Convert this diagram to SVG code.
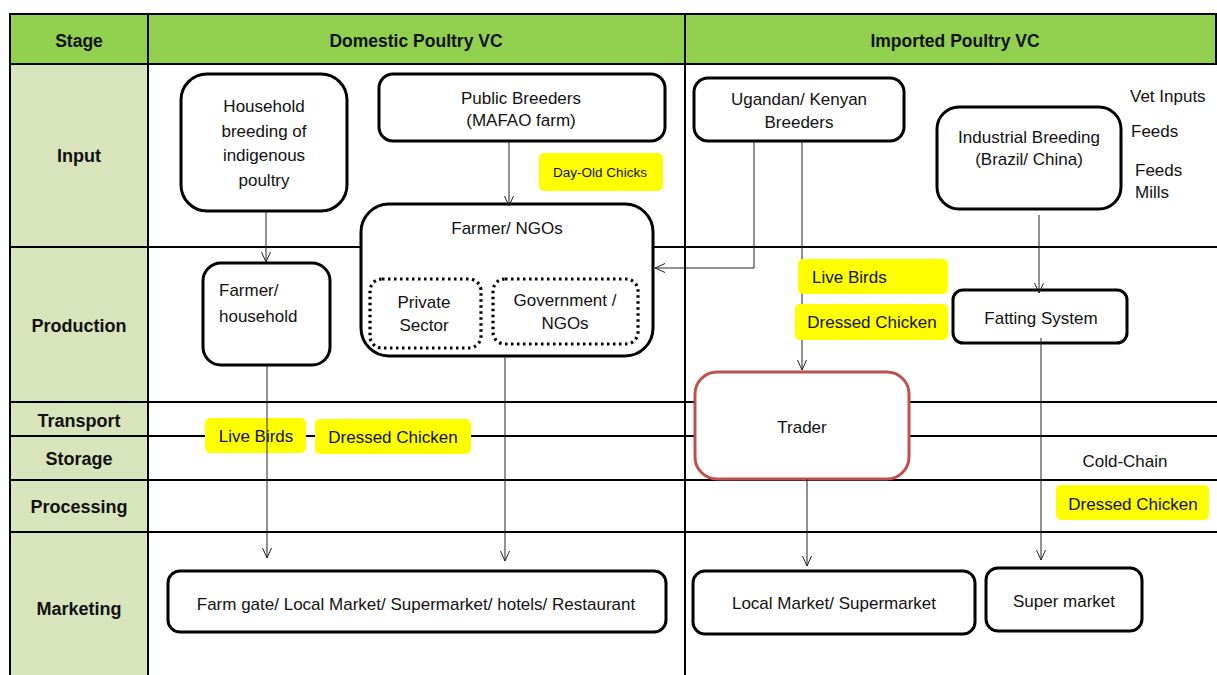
<svg xmlns="http://www.w3.org/2000/svg" width="1217" height="675" viewBox="0 0 1217 675">
  <defs>
    <style>
      text { font-family: "Liberation Sans", Arial, sans-serif; fill: #111; }
      .hdr { font-size: 17.5px; font-weight: bold; text-anchor: middle; }
      .stage { font-size: 18px; font-weight: bold; text-anchor: middle; }
      .lbl { font-size: 17px; text-anchor: middle; }
      .lbl-l { font-size: 17px; text-anchor: start; }
      .small { font-size: 13.5px; text-anchor: middle; }
      .grid { stroke: #000; stroke-width: 2; fill: none; }
      .box { fill: #fff; stroke: #000; stroke-width: 3; }
      .dotbox { fill: #fff; stroke: #000; stroke-width: 3.2; stroke-dasharray: 2.5 3.5; }
      .trader { fill: #fff; stroke: #C0504D; stroke-width: 3; }
      .tag { fill: #FFFF00; }
      .conn { stroke: #222; stroke-width: 1; fill: none; }
    </style>
    <marker id="arr" viewBox="0 0 12 12" refX="11" refY="6" markerWidth="12" markerHeight="12" orient="auto" markerUnits="userSpaceOnUse">
      <path d="M1,1.5 L11,6 L1,10.5" fill="none" stroke="#222" stroke-width="1"/>
    </marker>
  </defs>

  <rect width="1217" height="675" fill="#fff"/>

  <!-- table background -->
  <g id="table">
    <rect x="9" y="14" width="1210" height="50" fill="#92D050"/>
    <rect x="9" y="64" width="139" height="613" fill="#D8E4BC"/>
    <!-- horizontal rules -->
    <line class="grid" x1="9" y1="14" x2="1217" y2="14"/>
    <line class="grid" x1="9" y1="64" x2="1217" y2="64"/>
    <line class="grid" x1="9" y1="247" x2="1217" y2="247"/>
    <line class="grid" x1="9" y1="402" x2="1217" y2="402"/>
    <line class="grid" x1="9" y1="436" x2="1217" y2="436"/>
    <line class="grid" x1="9" y1="480" x2="1217" y2="480"/>
    <line class="grid" x1="9" y1="532" x2="1217" y2="532"/>
    <!-- vertical rules -->
    <line class="grid" x1="10" y1="14" x2="10" y2="675"/>
    <line class="grid" x1="148" y1="14" x2="148" y2="675"/>
    <line class="grid" x1="685" y1="14" x2="685" y2="675"/>
    <line class="grid" x1="1216" y1="14" x2="1216" y2="64"/>

    <text class="hdr" x="79" y="47">Stage</text>
    <text class="hdr" x="416" y="47">Domestic Poultry VC</text>
    <text class="hdr" x="955" y="47">Imported Poultry VC</text>

    <text class="stage" x="79" y="162">Input</text>
    <text class="stage" x="79" y="332">Production</text>
    <text class="stage" x="79" y="427">Transport</text>
    <text class="stage" x="79" y="465">Storage</text>
    <text class="stage" x="79" y="513">Processing</text>
    <text class="stage" x="79" y="615">Marketing</text>
  </g>

  <!-- domestic chain -->
  <g id="household-breeding">
    <rect class="box" x="181" y="74" width="166" height="137" rx="26"/>
    <text class="lbl" x="264" y="112">Household</text>
    <text class="lbl" x="264" y="137">breeding of</text>
    <text class="lbl" x="264" y="161">indigenous</text>
    <text class="lbl" x="264" y="186">poultry</text>
  </g>

  <g id="public-breeders">
    <rect class="box" x="379" y="74" width="286" height="67" rx="14"/>
    <text class="lbl" x="521" y="104">Public Breeders</text>
    <text class="lbl" x="521" y="126">(MAFAO farm)</text>
  </g>

  <g id="day-old-chicks">
    <rect class="tag" x="539" y="153" width="124" height="38" rx="5"/>
    <text class="small" x="600" y="177">Day-Old Chicks</text>
  </g>

  <g id="farmer-ngos">
    <rect class="box" x="361" y="204" width="292" height="152" rx="28"/>
    <text class="lbl" x="507" y="234">Farmer/ NGOs</text>
  </g>

  <g id="private-sector">
    <rect class="dotbox" x="370" y="279" width="111" height="69" rx="12"/>
    <text class="lbl" x="424" y="308">Private</text>
    <text class="lbl" x="424" y="331">Sector</text>
  </g>

  <g id="government-ngos">
    <rect class="dotbox" x="493" y="279" width="145" height="65" rx="12"/>
    <text class="lbl" x="565" y="306">Government /</text>
    <text class="lbl" x="565" y="329">NGOs</text>
  </g>

  <g id="farmer-household">
    <rect class="box" x="203" y="263" width="127" height="102" rx="18"/>
    <text class="lbl-l" x="219" y="296">Farmer/</text>
    <text class="lbl-l" x="219" y="322">household</text>
  </g>

  <g id="domestic-live-birds">
    <rect class="tag" x="205" y="418" width="101" height="35" rx="5"/>
    <text class="lbl" x="256" y="442">Live Birds</text>
  </g>

  <g id="domestic-dressed-chicken">
    <rect class="tag" x="315" y="419" width="156" height="35" rx="5"/>
    <text class="lbl" x="393" y="443">Dressed Chicken</text>
  </g>

  <g id="farm-gate-market">
    <rect class="box" x="168" y="571" width="498" height="61" rx="12"/>
    <text class="lbl" x="416" y="610">Farm gate/ Local Market/ Supermarket/ hotels/ Restaurant</text>
  </g>

  <!-- imported chain -->
  <g id="ugandan-kenyan-breeders">
    <rect class="box" x="694" y="78" width="210" height="63" rx="14"/>
    <text class="lbl" x="799" y="105">Ugandan/ Kenyan</text>
    <text class="lbl" x="799" y="128">Breeders</text>
  </g>

  <g id="industrial-breeding">
    <rect class="box" x="937" y="107" width="184" height="102" rx="22"/>
    <text class="lbl" x="1029" y="143">Industrial Breeding</text>
    <text class="lbl" x="1029" y="165">(Brazil/ China)</text>
  </g>

  <g id="input-notes">
    <text class="lbl-l" x="1130" y="102">Vet Inputs</text>
    <text class="lbl-l" x="1131" y="137">Feeds</text>
    <text class="lbl-l" x="1135" y="176">Feeds</text>
    <text class="lbl-l" x="1135" y="198">Mills</text>
  </g>

  <g id="fatting-system">
    <rect class="box" x="953" y="290" width="174" height="53" rx="10"/>
    <text class="lbl" x="1041" y="324">Fatting System</text>
  </g>

  <g id="trader">
    <rect class="trader" x="695" y="372" width="214" height="107" rx="22"/>
    <text class="lbl" x="802" y="433">Trader</text>
  </g>

  <g id="cold-chain">
    <text class="lbl" x="1125" y="467">Cold-Chain</text>
  </g>

  <g id="local-market-supermarket">
    <rect class="box" x="693" y="571" width="282" height="63" rx="12"/>
    <text class="lbl" x="834" y="609">Local Market/ Supermarket</text>
  </g>

  <g id="supermarket">
    <rect class="box" x="986" y="568" width="156" height="63" rx="12"/>
    <text class="lbl" x="1064" y="607">Super market</text>
  </g>

  <!-- flow arrows -->
  <g id="connectors">
    <line class="conn" x1="509" y1="141" x2="509" y2="206" marker-end="url(#arr)"/>
    <line class="conn" x1="266" y1="211" x2="266" y2="262" marker-end="url(#arr)"/>
    <line class="conn" x1="267" y1="365" x2="267" y2="558" marker-end="url(#arr)"/>
    <line class="conn" x1="505" y1="356" x2="505" y2="561" marker-end="url(#arr)"/>
    <polyline class="conn" points="754,141 754,268 655,268" marker-end="url(#arr)"/>
    <line class="conn" x1="802" y1="141" x2="802" y2="370" marker-end="url(#arr)"/>
    <line class="conn" x1="1039" y1="215" x2="1039" y2="293" marker-end="url(#arr)"/>
    <line class="conn" x1="1041" y1="338" x2="1041" y2="560" marker-end="url(#arr)"/>
    <line class="conn" x1="807" y1="479" x2="807" y2="566" marker-end="url(#arr)"/>
  </g>

  <!-- product tags on the import route -->
  <g id="import-live-birds">
    <rect class="tag" x="798" y="259" width="150" height="35" rx="5"/>
    <text class="lbl-l" x="812" y="283">Live Birds</text>
  </g>

  <g id="import-dressed-chicken">
    <rect class="tag" x="795" y="304" width="153" height="36" rx="5"/>
    <text class="lbl" x="872" y="328">Dressed Chicken</text>
  </g>

  <g id="supermarket-dressed-chicken">
    <rect class="tag" x="1056" y="485" width="153" height="35" rx="5"/>
    <text class="lbl" x="1133" y="510">Dressed Chicken</text>
  </g>
</svg>
